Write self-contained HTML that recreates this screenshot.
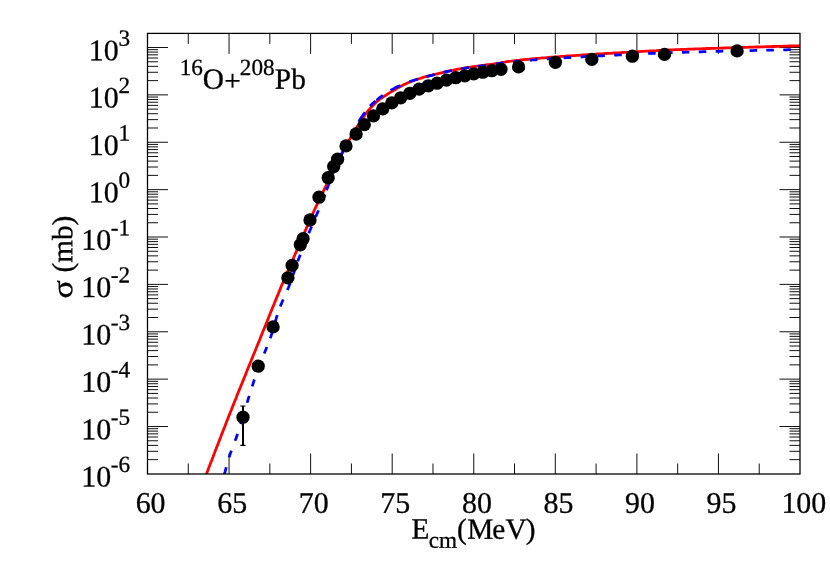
<!DOCTYPE html>
<html><head><meta charset="utf-8"><title>16O+208Pb</title>
<style>html,body{margin:0;padding:0;background:#fff}body{width:830px;height:581px;overflow:hidden;font-family:"Liberation Serif",serif}</style>
</head><body>
<svg width="830" height="581" viewBox="0 0 830 581" style="display:block;will-change:transform">
<rect x="0" y="0" width="830" height="581" fill="#fff"/>
<path d="M147.5,459.64 h10.5 M800.0,459.64 h-10.5 M147.5,451.30 h10.5 M800.0,451.30 h-10.5 M147.5,445.38 h10.5 M800.0,445.38 h-10.5 M147.5,440.78 h10.5 M800.0,440.78 h-10.5 M147.5,437.03 h10.5 M800.0,437.03 h-10.5 M147.5,433.86 h10.5 M800.0,433.86 h-10.5 M147.5,431.11 h10.5 M800.0,431.11 h-10.5 M147.5,428.69 h10.5 M800.0,428.69 h-10.5 M147.5,426.52 h20.5 M800.0,426.52 h-20.5 M147.5,412.26 h10.5 M800.0,412.26 h-10.5 M147.5,403.92 h10.5 M800.0,403.92 h-10.5 M147.5,398.00 h10.5 M800.0,398.00 h-10.5 M147.5,393.41 h10.5 M800.0,393.41 h-10.5 M147.5,389.66 h10.5 M800.0,389.66 h-10.5 M147.5,386.48 h10.5 M800.0,386.48 h-10.5 M147.5,383.74 h10.5 M800.0,383.74 h-10.5 M147.5,381.31 h10.5 M800.0,381.31 h-10.5 M147.5,379.14 h20.5 M800.0,379.14 h-20.5 M147.5,364.88 h10.5 M800.0,364.88 h-10.5 M147.5,356.54 h10.5 M800.0,356.54 h-10.5 M147.5,350.62 h10.5 M800.0,350.62 h-10.5 M147.5,346.03 h10.5 M800.0,346.03 h-10.5 M147.5,342.28 h10.5 M800.0,342.28 h-10.5 M147.5,339.11 h10.5 M800.0,339.11 h-10.5 M147.5,336.36 h10.5 M800.0,336.36 h-10.5 M147.5,333.93 h10.5 M800.0,333.93 h-10.5 M147.5,331.77 h20.5 M800.0,331.77 h-20.5 M147.5,317.50 h10.5 M800.0,317.50 h-10.5 M147.5,309.16 h10.5 M800.0,309.16 h-10.5 M147.5,303.24 h10.5 M800.0,303.24 h-10.5 M147.5,298.65 h10.5 M800.0,298.65 h-10.5 M147.5,294.90 h10.5 M800.0,294.90 h-10.5 M147.5,291.73 h10.5 M800.0,291.73 h-10.5 M147.5,288.98 h10.5 M800.0,288.98 h-10.5 M147.5,286.56 h10.5 M800.0,286.56 h-10.5 M147.5,284.39 h20.5 M800.0,284.39 h-20.5 M147.5,270.13 h10.5 M800.0,270.13 h-10.5 M147.5,261.78 h10.5 M800.0,261.78 h-10.5 M147.5,255.86 h10.5 M800.0,255.86 h-10.5 M147.5,251.27 h10.5 M800.0,251.27 h-10.5 M147.5,247.52 h10.5 M800.0,247.52 h-10.5 M147.5,244.35 h10.5 M800.0,244.35 h-10.5 M147.5,241.60 h10.5 M800.0,241.60 h-10.5 M147.5,239.18 h10.5 M800.0,239.18 h-10.5 M147.5,237.01 h20.5 M800.0,237.01 h-20.5 M147.5,222.75 h10.5 M800.0,222.75 h-10.5 M147.5,214.41 h10.5 M800.0,214.41 h-10.5 M147.5,208.49 h10.5 M800.0,208.49 h-10.5 M147.5,203.90 h10.5 M800.0,203.90 h-10.5 M147.5,200.14 h10.5 M800.0,200.14 h-10.5 M147.5,196.97 h10.5 M800.0,196.97 h-10.5 M147.5,194.22 h10.5 M800.0,194.22 h-10.5 M147.5,191.80 h10.5 M800.0,191.80 h-10.5 M147.5,189.63 h20.5 M800.0,189.63 h-20.5 M147.5,175.37 h10.5 M800.0,175.37 h-10.5 M147.5,167.03 h10.5 M800.0,167.03 h-10.5 M147.5,161.11 h10.5 M800.0,161.11 h-10.5 M147.5,156.52 h10.5 M800.0,156.52 h-10.5 M147.5,152.77 h10.5 M800.0,152.77 h-10.5 M147.5,149.59 h10.5 M800.0,149.59 h-10.5 M147.5,146.85 h10.5 M800.0,146.85 h-10.5 M147.5,144.42 h10.5 M800.0,144.42 h-10.5 M147.5,142.26 h20.5 M800.0,142.26 h-20.5 M147.5,127.99 h10.5 M800.0,127.99 h-10.5 M147.5,119.65 h10.5 M800.0,119.65 h-10.5 M147.5,113.73 h10.5 M800.0,113.73 h-10.5 M147.5,109.14 h10.5 M800.0,109.14 h-10.5 M147.5,105.39 h10.5 M800.0,105.39 h-10.5 M147.5,102.22 h10.5 M800.0,102.22 h-10.5 M147.5,99.47 h10.5 M800.0,99.47 h-10.5 M147.5,97.05 h10.5 M800.0,97.05 h-10.5 M147.5,94.88 h20.5 M800.0,94.88 h-20.5 M147.5,80.62 h10.5 M800.0,80.62 h-10.5 M147.5,72.27 h10.5 M800.0,72.27 h-10.5 M147.5,66.35 h10.5 M800.0,66.35 h-10.5 M147.5,61.76 h10.5 M800.0,61.76 h-10.5 M147.5,58.01 h10.5 M800.0,58.01 h-10.5 M147.5,54.84 h10.5 M800.0,54.84 h-10.5 M147.5,52.09 h10.5 M800.0,52.09 h-10.5 M147.5,49.67 h10.5 M800.0,49.67 h-10.5 M147.5,47.50 h20.5 M800.0,47.50 h-20.5 M188.28,474.0 v-10.5 M188.28,33.4 v10.5 M229.06,474.0 v-20.5 M229.06,33.4 v20.5 M269.84,474.0 v-10.5 M269.84,33.4 v10.5 M310.62,474.0 v-20.5 M310.62,33.4 v20.5 M351.41,474.0 v-10.5 M351.41,33.4 v10.5 M392.19,474.0 v-20.5 M392.19,33.4 v20.5 M432.97,474.0 v-10.5 M432.97,33.4 v10.5 M473.75,474.0 v-20.5 M473.75,33.4 v20.5 M514.53,474.0 v-10.5 M514.53,33.4 v10.5 M555.31,474.0 v-20.5 M555.31,33.4 v20.5 M596.09,474.0 v-10.5 M596.09,33.4 v10.5 M636.88,474.0 v-20.5 M636.88,33.4 v20.5 M677.66,474.0 v-10.5 M677.66,33.4 v10.5 M718.44,474.0 v-20.5 M718.44,33.4 v20.5 M759.22,474.0 v-10.5 M759.22,33.4 v10.5" stroke="#111" stroke-width="1.0" fill="none"/>
<clipPath id="c"><rect x="147.5" y="33.4" width="652.5" height="440.6"/></clipPath>
<g clip-path="url(#c)" fill="none">
<path d="M206.3,474.5 L207.0,472.5 L207.8,470.5 L208.5,468.6 L209.3,466.6 L210.0,464.6 L210.8,462.6 L211.6,460.7 L212.3,458.7 L213.1,456.7 L213.8,454.8 L214.6,452.8 L215.3,450.8 L216.1,448.8 L216.8,446.9 L217.6,444.9 L218.4,442.9 L219.1,441.0 L219.9,439.0 L220.7,437.0 L221.4,435.0 L222.2,433.1 L223.0,431.1 L223.7,429.1 L224.5,427.2 L225.3,425.2 L226.0,423.2 L226.8,421.3 L227.6,419.3 L228.3,417.3 L229.1,415.4 L229.9,413.4 L230.7,411.4 L231.5,409.5 L232.2,407.5 L233.0,405.6 L233.8,403.6 L234.6,401.6 L235.4,399.7 L236.2,397.7 L236.9,395.8 L237.7,393.8 L238.5,391.8 L239.3,389.9 L240.1,387.9 L240.9,386.0 L241.7,384.0 L242.5,382.0 L243.3,380.1 L244.1,378.1 L244.9,376.2 L245.7,374.2 L246.4,372.2 L247.2,370.3 L248.0,368.3 L248.8,366.4 L249.6,364.4 L250.4,362.5 L251.2,360.5 L252.0,358.5 L252.8,356.6 L253.6,354.6 L254.4,352.7 L255.2,350.7 L256.0,348.8 L256.8,346.8 L257.6,344.8 L258.4,342.9 L259.2,340.9 L260.0,339.0 L260.7,337.0 L261.5,335.1 L262.3,333.1 L263.1,331.1 L263.9,329.2 L264.7,327.2 L265.5,325.3 L266.3,323.3 L267.1,321.3 L267.8,319.4 L268.6,317.4 L269.4,315.5 L270.2,313.5 L271.0,311.5 L271.8,309.6 L272.6,307.6 L273.4,305.7 L274.2,303.7 L275.0,301.7 L275.8,299.8 L276.6,297.8 L277.4,295.9 L278.2,293.9 L279.0,292.0 L279.8,290.0 L280.6,288.1 L281.4,286.1 L282.2,284.2 L283.1,282.2 L283.9,280.3 L284.7,278.3 L285.5,276.4 L286.4,274.5 L287.2,272.5 L288.0,270.6 L288.9,268.6 L289.7,266.7 L290.6,264.8 L291.4,262.8 L292.3,260.9 L293.1,259.0 L293.9,257.0 L294.8,255.1 L295.6,253.1 L296.5,251.2 L297.3,249.3 L298.1,247.3 L299.0,245.4 L299.8,243.4 L300.6,241.5 L301.5,239.6 L302.3,237.6 L303.1,235.7 L304.0,233.7 L304.8,231.8 L305.7,229.9 L306.5,227.9 L307.4,226.0 L308.2,224.1 L309.1,222.1 L309.9,220.2 L310.8,218.3 L311.6,216.3 L312.5,214.4 L313.3,212.5 L314.2,210.5 L315.1,208.6 L316.0,206.7 L316.9,204.8 L317.8,202.9 L318.7,201.0 L319.6,199.1 L320.5,197.2 L321.4,195.3 L322.3,193.4 L323.3,191.5 L324.2,189.6 L325.1,187.7 L326.0,185.8 L327.0,183.9 L327.9,182.0 L328.8,180.1 L329.8,178.2 L330.7,176.3 L331.6,174.4 L332.6,172.5 L333.5,170.6 L334.5,168.7 L335.4,166.8 L336.3,164.9 L337.3,163.0 L338.2,161.1 L339.1,159.2 L340.0,157.3 L341.0,155.4 L341.9,153.5 L342.9,151.7 L343.9,149.8 L344.9,147.9 L345.9,146.1 L346.9,144.2 L347.9,142.4 L348.9,140.5 L350.0,138.7 L351.0,136.8 L352.0,135.0 L353.1,133.2 L354.2,131.3 L355.2,129.5 L356.4,127.7 L357.5,126.0 L358.7,124.3 L360.0,122.6 L361.2,120.8 L362.4,119.1 L363.5,117.3 L364.6,115.5 L365.8,113.8 L367.1,112.1 L368.4,110.4 L369.8,108.8 L371.2,107.2 L372.6,105.7 L374.1,104.2 L375.7,102.7 L377.2,101.3 L378.9,100.0 L380.6,98.7 L382.3,97.5 L384.1,96.3 L385.9,95.2 L387.6,94.1 L389.4,92.9 L391.2,91.9 L393.1,90.8 L394.9,89.7 L396.7,88.6 L398.5,87.6 L400.4,86.5 L402.2,85.6 L404.1,84.6 L406.0,83.7 L407.9,82.8 L409.9,82.0 L411.8,81.2 L413.8,80.5 L415.8,79.8 L417.8,79.1 L419.8,78.5 L421.9,77.8 L423.9,77.2 L425.9,76.6 L428.0,76.1 L430.0,75.6 L432.1,75.2 L434.1,74.7 L436.2,74.2 L438.2,73.7 L440.3,73.2 L442.3,72.7 L444.4,72.1 L446.4,71.6 L448.5,71.1 L450.6,70.7 L452.6,70.3 L454.7,69.8 L456.8,69.4 L458.8,69.0 L460.9,68.7 L463.0,68.3 L465.1,67.9 L467.2,67.6 L469.3,67.3 L471.4,67.0 L473.4,66.7 L475.5,66.4 L477.6,66.1 L479.7,65.8 L481.8,65.5 L483.9,65.3 L486.0,65.0 L488.1,64.7 L490.2,64.5 L492.3,64.2 L494.4,63.8 L496.5,63.5 L498.5,63.1 L500.6,62.8 L502.7,62.4 L504.8,62.1 L506.9,61.7 L509.0,61.4 L511.1,61.2 L513.2,60.9 L515.3,60.6 L517.4,60.4 L519.5,60.2 L521.6,59.9 L523.7,59.7 L525.8,59.5 L527.9,59.3 L530.0,59.1 L532.1,58.9 L534.2,58.7 L536.3,58.5 L538.4,58.3 L540.5,58.1 L542.6,57.9 L544.7,57.8 L546.8,57.6 L548.9,57.4 L551.0,57.2 L553.1,57.1 L555.2,56.9 L557.3,56.8 L559.4,56.6 L561.5,56.4 L563.7,56.3 L565.8,56.1 L567.9,56.0 L570.0,55.9 L572.1,55.7 L574.2,55.6 L576.3,55.4 L578.4,55.3 L580.5,55.1 L582.6,55.0 L584.7,54.9 L586.8,54.7 L588.9,54.6 L591.1,54.4 L593.2,54.3 L595.3,54.2 L597.4,54.0 L599.5,53.9 L601.6,53.8 L603.7,53.6 L605.8,53.5 L607.9,53.4 L610.0,53.3 L612.1,53.1 L614.2,53.0 L616.4,52.9 L618.5,52.8 L620.6,52.6 L622.7,52.5 L624.8,52.4 L626.9,52.3 L629.0,52.2 L631.1,52.0 L633.2,51.9 L635.3,51.8 L637.4,51.7 L639.6,51.6 L641.7,51.4 L643.8,51.3 L645.9,51.2 L648.0,51.1 L650.1,51.0 L652.2,50.9 L654.3,50.8 L656.4,50.7 L658.5,50.5 L660.7,50.4 L662.8,50.3 L664.9,50.2 L667.0,50.1 L669.1,50.0 L671.2,49.9 L673.3,49.8 L675.4,49.7 L677.5,49.7 L679.6,49.6 L681.8,49.5 L683.9,49.4 L686.0,49.3 L688.1,49.2 L690.2,49.1 L692.3,49.1 L694.4,49.0 L696.5,48.9 L698.6,48.8 L700.8,48.8 L702.9,48.7 L705.0,48.6 L707.1,48.5 L709.2,48.5 L711.3,48.4 L713.4,48.3 L715.5,48.3 L717.6,48.2 L719.8,48.1 L721.9,48.1 L724.0,48.0 L726.1,47.9 L728.2,47.9 L730.3,47.8 L732.4,47.7 L734.5,47.7 L736.7,47.6 L738.8,47.5 L740.9,47.5 L743.0,47.4 L745.1,47.3 L747.2,47.3 L749.3,47.2 L751.4,47.1 L753.5,47.1 L755.7,47.0 L757.8,47.0 L759.9,46.9 L762.0,46.8 L764.1,46.8 L766.2,46.7 L768.3,46.6 L770.4,46.6 L772.5,46.5 L774.7,46.5 L776.8,46.4 L778.9,46.3 L781.0,46.3 L783.1,46.2 L785.2,46.2 L787.3,46.1 L789.4,46.0 L791.6,46.0 L793.7,45.9 L795.8,45.9 L797.9,45.8 L800.0,45.8" stroke="#ff0000" stroke-width="2.8" stroke-linejoin="round"/>
<path d="M224.3,474.5 L224.7,472.9 L225.2,471.3 L225.6,469.7 L226.1,468.0 L226.5,466.4 L227.0,464.8 L227.4,463.2 L227.8,461.6 L228.3,460.0 L228.8,458.4 L229.3,456.8 L229.8,455.2 L230.3,453.6 L230.9,452.0 L231.4,450.4 L232.0,448.9 L232.6,447.3 L233.2,445.7 L233.8,444.2 L234.4,442.6 L235.0,441.0 L235.6,439.5 L236.2,437.9 L236.8,436.3 L237.3,434.7 L237.8,433.2 L238.4,431.6 L238.9,430.0 L239.4,428.4 L239.9,426.8 L240.4,425.2 L240.9,423.6 L241.4,422.0 L241.9,420.4 L242.4,418.8 L242.8,417.2 L243.3,415.6 L243.8,414.0 L244.3,412.3 L244.7,410.7 L245.2,409.1 L245.7,407.5 L246.2,405.9 L246.7,404.3 L247.1,402.7 L247.6,401.1 L248.1,399.5 L248.6,397.9 L249.1,396.3 L249.6,394.7 L250.1,393.1 L250.6,391.5 L251.1,389.9 L251.6,388.3 L252.1,386.7 L252.6,385.1 L253.1,383.5 L253.6,381.9 L254.1,380.3 L254.7,378.8 L255.2,377.2 L255.8,375.6 L256.4,374.0 L257.0,372.5 L257.5,370.9 L258.1,369.3 L258.7,367.8 L259.3,366.2 L260.0,364.6 L260.6,363.1 L261.2,361.5 L261.8,360.0 L262.4,358.4 L263.0,356.8 L263.6,355.3 L264.2,353.7 L264.8,352.2 L265.4,350.6 L266.1,349.0 L266.7,347.5 L267.3,345.9 L267.9,344.4 L268.5,342.8 L269.1,341.2 L269.7,339.7 L270.3,338.1 L270.9,336.5 L271.4,334.9 L271.9,333.4 L272.4,331.8 L272.9,330.2 L273.4,328.6 L273.9,326.9 L274.3,325.3 L274.8,323.7 L275.2,322.1 L275.7,320.5 L276.1,318.9 L276.6,317.2 L277.1,315.6 L277.6,314.0 L278.1,312.5 L278.6,310.9 L279.2,309.3 L279.8,307.7 L280.4,306.2 L281.0,304.6 L281.7,303.1 L282.3,301.6 L283.0,300.0 L283.7,298.5 L284.4,297.0 L285.1,295.4 L285.7,293.9 L286.4,292.4 L287.1,290.8 L287.7,289.3 L288.4,287.7 L289.0,286.2 L289.6,284.6 L290.2,283.1 L290.8,281.5 L291.4,279.9 L291.9,278.3 L292.5,276.8 L293.0,275.2 L293.5,273.6 L294.1,272.0 L294.6,270.4 L295.2,268.8 L295.7,267.2 L296.2,265.6 L296.8,264.1 L297.4,262.5 L297.9,260.9 L298.5,259.3 L299.1,257.8 L299.7,256.2 L300.3,254.6 L300.9,253.1 L301.5,251.5 L302.1,250.0 L302.7,248.4 L303.3,246.8 L303.9,245.3 L304.5,243.7 L305.2,242.2 L305.8,240.6 L306.4,239.1 L307.0,237.5 L307.7,236.0 L308.3,234.4 L308.9,232.9 L309.6,231.3 L310.2,229.8 L310.9,228.2 L311.5,226.7 L312.2,225.1 L312.8,223.6 L313.5,222.1 L314.2,220.5 L314.8,219.0 L315.5,217.4 L316.1,215.9 L316.8,214.4 L317.4,212.8 L318.1,211.3 L318.7,209.7 L319.3,208.2 L320.0,206.6 L320.6,205.1 L321.2,203.5 L321.8,201.9 L322.4,200.4 L323.1,198.8 L323.7,197.3 L324.3,195.7 L324.9,194.1 L325.5,192.6 L326.1,191.0 L326.7,189.5 L327.4,187.9 L328.0,186.4 L328.6,184.8 L329.2,183.2 L329.8,181.7 L330.4,180.1 L331.0,178.5 L331.6,177.0 L332.2,175.4 L332.8,173.9 L333.5,172.3 L334.1,170.8 L334.7,169.2 L335.4,167.7 L336.0,166.1 L336.7,164.6 L337.4,163.1 L338.1,161.5 L338.8,160.0 L339.5,158.5 L340.2,157.0 L340.9,155.5 L341.6,154.0 L342.4,152.5 L343.1,150.9 L343.8,149.4 L344.5,147.9 L345.3,146.4 L346.0,144.9 L346.7,143.4 L347.5,141.9 L348.2,140.4 L349.0,138.9 L349.8,137.4 L350.6,136.0 L351.4,134.5 L352.2,133.0 L353.0,131.5 L353.8,130.1 L354.6,128.6 L355.4,127.2 L356.3,125.7 L357.1,124.3 L358.0,122.8 L358.9,121.4 L359.7,120.0 L360.6,118.6 L361.5,117.2 L362.5,115.8 L363.4,114.4 L364.4,113.0 L365.3,111.6 L366.4,110.3 L367.4,109.0 L368.5,107.7 L369.6,106.5 L370.8,105.3 L372.0,104.1 L373.2,103.0 L374.5,101.9 L375.8,100.8 L377.1,99.8 L378.4,98.7 L379.7,97.7 L381.1,96.7 L382.4,95.7 L383.8,94.7 L385.2,93.8 L386.6,92.8 L388.0,91.9 L389.4,91.1 L390.8,90.2 L392.3,89.4 L393.8,88.6 L395.2,87.8 L396.7,87.0 L398.3,86.3 L399.8,85.7 L401.3,85.0 L402.9,84.4 L404.4,83.7 L406.0,83.1 L407.6,82.5 L409.1,81.9 L410.7,81.4 L412.3,80.8 L413.9,80.3 L415.5,79.8 L417.1,79.3 L418.7,78.8 L420.3,78.4 L421.9,77.9 L423.5,77.4 L425.1,77.0 L426.7,76.6 L428.4,76.1 L430.0,75.7 L431.6,75.3 L433.2,74.9 L434.8,74.5 L436.5,74.0 L438.1,73.6 L439.7,73.2 L441.4,72.8 L443.0,72.5 L444.6,72.1 L446.2,71.7 L447.9,71.4 L449.5,71.0 L451.2,70.7 L452.8,70.3 L454.4,70.0 L456.1,69.7 L457.7,69.4 L459.4,69.1 L461.0,68.8 L462.7,68.5 L464.3,68.3 L466.0,68.0 L467.7,67.7 L469.3,67.5 L471.0,67.3 L472.6,67.0 L474.3,66.8 L475.9,66.6 L477.6,66.4 L479.3,66.2 L480.9,66.0 L482.6,65.7 L484.3,65.5 L485.9,65.3 L487.6,65.2 L489.2,65.0 L490.9,64.7 L492.6,64.5 L494.2,64.3 L495.9,64.0 L497.5,63.8 L499.2,63.5 L500.8,63.2 L502.5,62.9 L504.2,62.7 L505.8,62.4 L507.5,62.2 L509.1,62.0 L510.8,61.8 L512.5,61.7 L514.1,61.5 L515.8,61.4 L517.5,61.2 L519.1,61.1 L520.8,60.9 L522.5,60.8 L524.1,60.7 L525.8,60.5 L527.5,60.4 L529.1,60.3 L530.8,60.2 L532.5,60.0 L534.2,59.9 L535.8,59.8 L537.5,59.7 L539.2,59.5 L540.8,59.4 L542.5,59.3 L544.2,59.2 L545.9,59.1 L547.5,58.9 L549.2,58.8 L550.9,58.7 L552.5,58.6 L554.2,58.5 L555.9,58.4 L557.5,58.3 L559.2,58.2 L560.9,58.1 L562.6,57.9 L564.2,57.8 L565.9,57.7 L567.6,57.6 L569.2,57.5 L570.9,57.5 L572.6,57.4 L574.3,57.3 L575.9,57.2 L577.6,57.1 L579.3,57.0 L581.0,56.9 L582.6,56.8 L584.3,56.7 L586.0,56.6 L587.6,56.5 L589.3,56.5 L591.0,56.4 L592.7,56.3 L594.3,56.2 L596.0,56.1 L597.7,56.0 L599.4,55.9 L601.0,55.8 L602.7,55.8 L604.4,55.7 L606.0,55.6 L607.7,55.5 L609.4,55.4 L611.1,55.3 L612.7,55.2 L614.4,55.1 L616.1,55.0 L617.7,55.0 L619.4,54.9 L621.1,54.8 L622.8,54.7 L624.4,54.6 L626.1,54.5 L627.8,54.4 L629.5,54.4 L631.1,54.3 L632.8,54.2 L634.5,54.1 L636.1,54.0 L637.8,53.9 L639.5,53.9 L641.2,53.8 L642.8,53.7 L644.5,53.6 L646.2,53.6 L647.9,53.5 L649.5,53.4 L651.2,53.4 L652.9,53.3 L654.6,53.3 L656.2,53.2 L657.9,53.1 L659.6,53.1 L661.2,53.0 L662.9,53.0 L664.6,52.9 L666.3,52.8 L667.9,52.8 L669.6,52.7 L671.3,52.7 L673.0,52.6 L674.6,52.6 L676.3,52.5 L678.0,52.5 L679.7,52.4 L681.3,52.4 L683.0,52.3 L684.7,52.3 L686.4,52.2 L688.0,52.2 L689.7,52.1 L691.4,52.1 L693.1,52.0 L694.7,52.0 L696.4,51.9 L698.1,51.9 L699.8,51.8 L701.4,51.8 L703.1,51.7 L704.8,51.7 L706.4,51.6 L708.1,51.6 L709.8,51.6 L711.5,51.5 L713.1,51.5 L714.8,51.4 L716.5,51.4 L718.2,51.3 L719.8,51.3 L721.5,51.2 L723.2,51.2 L724.9,51.2 L726.5,51.1 L728.2,51.1 L729.9,51.0 L731.6,51.0 L733.2,50.9 L734.9,50.9 L736.6,50.9 L738.3,50.8 L739.9,50.8 L741.6,50.7 L743.3,50.7 L745.0,50.7 L746.6,50.6 L748.3,50.6 L750.0,50.5 L751.7,50.5 L753.3,50.5 L755.0,50.4 L756.7,50.4 L758.3,50.4 L760.0,50.3 L761.7,50.3 L763.4,50.2 L765.0,50.2 L766.7,50.2 L768.4,50.1 L770.1,50.1 L771.7,50.1 L773.4,50.0 L775.1,50.0 L776.8,50.0 L778.4,49.9 L780.1,49.9 L781.8,49.9 L783.5,49.8 L785.1,49.8 L786.8,49.8 L788.5,49.7 L790.2,49.7 L791.8,49.7 L793.5,49.6 L795.2,49.6 L796.9,49.6 L798.5,49.5 L800.0,49.5" stroke="#0000ff" stroke-width="2.75" stroke-dasharray="7.54 10.26 7.11 10.48 7.33 10.25 7.12 15.29 7.12 10.05 7.11 10.46 7.12 10.26 7.12 9.21 7.11 10.06 7.12 9.18 7.54 10.28 7.32 8.79 7.33 7.12 7.12 8.79 7.33 6.91 7.33 10.26 7.33 9.84 7.33 4.40 7.33 10.68 7.53 11.51 7.54 16.12 7.76 7.55 11.10 8.16 7.53 1.26 7.96 9.22 10.88 9.64 9.00 9.22 8.37 9.22 8.37 9.42 7.95 9.21 7.96 10.26 7.54 9.41 7.54 9.43 7.54 9.42 7.54 9.42 7.54 9.42 7.54 9.42 7.33 9.42 7.54 9.42 7.54 9.42 7.54 9.42 7.54 9.42 7.33 9.42 7.54 9.42 7.54 9.42 7.54 9.42 7.54 9.21 7.54 9.42 7.54 50.00" stroke-linejoin="round"/>
</g>
<path d="M243,406 V445.4" stroke="#000" stroke-width="2" fill="none"/>
<path d="M240.3,406 H245.5 M240.3,445.4 H245.5" stroke="#000" stroke-width="1.2" fill="none"/>
<g fill="#000">
<circle cx="243.0" cy="417.2" r="6.65"/>
<circle cx="258.2" cy="366.2" r="6.65"/>
<circle cx="273.1" cy="326.9" r="6.65"/>
<circle cx="287.9" cy="277.8" r="6.65"/>
<circle cx="292.1" cy="265.4" r="6.65"/>
<circle cx="300.3" cy="244.8" r="6.65"/>
<circle cx="303.1" cy="238.7" r="6.65"/>
<circle cx="310.0" cy="220.0" r="6.65"/>
<circle cx="319.0" cy="197.2" r="6.65"/>
<circle cx="328.2" cy="177.7" r="6.65"/>
<circle cx="333.7" cy="166.5" r="6.65"/>
<circle cx="337.6" cy="159.2" r="6.65"/>
<circle cx="346.0" cy="145.9" r="6.65"/>
<circle cx="356.1" cy="134.0" r="6.65"/>
<circle cx="364.3" cy="124.6" r="6.65"/>
<circle cx="373.5" cy="115.9" r="6.65"/>
<circle cx="382.7" cy="108.9" r="6.65"/>
<circle cx="391.8" cy="102.9" r="6.65"/>
<circle cx="400.7" cy="97.8" r="6.65"/>
<circle cx="409.9" cy="93.3" r="6.65"/>
<circle cx="419.1" cy="89.1" r="6.65"/>
<circle cx="428.3" cy="85.8" r="6.65"/>
<circle cx="437.1" cy="83.2" r="6.65"/>
<circle cx="446.5" cy="80.1" r="6.65"/>
<circle cx="455.7" cy="77.7" r="6.65"/>
<circle cx="464.8" cy="75.8" r="6.65"/>
<circle cx="473.7" cy="73.9" r="6.65"/>
<circle cx="482.9" cy="72.2" r="6.65"/>
<circle cx="491.8" cy="70.7" r="6.65"/>
<circle cx="501.0" cy="69.3" r="6.65"/>
<circle cx="518.6" cy="66.9" r="6.65"/>
<circle cx="555.4" cy="62.3" r="6.65"/>
<circle cx="591.8" cy="59.4" r="6.65"/>
<circle cx="632.4" cy="56.2" r="6.65"/>
<circle cx="664.5" cy="54.4" r="6.65"/>
<circle cx="737.1" cy="50.9" r="6.65"/>
</g>
<rect x="147.5" y="33.4" width="652.5" height="440.6" fill="none" stroke="#000" stroke-width="1.28"/>
<g font-family="Liberation Serif, serif" fill="#000" stroke="#000" stroke-width="0.3">
<text transform="translate(150.6,512.7) rotate(0.03) scale(1,1.0)" font-size="29.9" text-anchor="middle">60</text>
<text transform="translate(232.2,512.7) rotate(0.03) scale(1,1.0)" font-size="29.9" text-anchor="middle">65</text>
<text transform="translate(313.7,512.7) rotate(0.03) scale(1,1.0)" font-size="29.9" text-anchor="middle">70</text>
<text transform="translate(395.3,512.7) rotate(0.03) scale(1,1.0)" font-size="29.9" text-anchor="middle">75</text>
<text transform="translate(476.9,512.7) rotate(0.03) scale(1,1.0)" font-size="29.9" text-anchor="middle">80</text>
<text transform="translate(558.4,512.7) rotate(0.03) scale(1,1.0)" font-size="29.9" text-anchor="middle">85</text>
<text transform="translate(640.0,512.7) rotate(0.03) scale(1,1.0)" font-size="29.9" text-anchor="middle">90</text>
<text transform="translate(721.5,512.7) rotate(0.03) scale(1,1.0)" font-size="29.9" text-anchor="middle">95</text>
<text transform="translate(803.8,512.7) rotate(0.03) scale(1,1.0)" font-size="29.9" text-anchor="middle">100</text>
<text transform="translate(111.2,486.6) rotate(0.03) scale(1,1.0)" font-size="29.9" text-anchor="end">10</text>
<text transform="translate(130.0,472.1) rotate(0.03) scale(1,1.0)" font-size="23.2" text-anchor="end">-6</text>
<text transform="translate(111.2,439.2) rotate(0.03) scale(1,1.0)" font-size="29.9" text-anchor="end">10</text>
<text transform="translate(130.0,424.7) rotate(0.03) scale(1,1.0)" font-size="23.2" text-anchor="end">-5</text>
<text transform="translate(111.2,391.8) rotate(0.03) scale(1,1.0)" font-size="29.9" text-anchor="end">10</text>
<text transform="translate(130.0,377.3) rotate(0.03) scale(1,1.0)" font-size="23.2" text-anchor="end">-4</text>
<text transform="translate(111.2,344.5) rotate(0.03) scale(1,1.0)" font-size="29.9" text-anchor="end">10</text>
<text transform="translate(130.0,330.0) rotate(0.03) scale(1,1.0)" font-size="23.2" text-anchor="end">-3</text>
<text transform="translate(111.2,297.1) rotate(0.03) scale(1,1.0)" font-size="29.9" text-anchor="end">10</text>
<text transform="translate(130.0,282.6) rotate(0.03) scale(1,1.0)" font-size="23.2" text-anchor="end">-2</text>
<text transform="translate(111.2,249.7) rotate(0.03) scale(1,1.0)" font-size="29.9" text-anchor="end">10</text>
<text transform="translate(130.0,235.2) rotate(0.03) scale(1,1.0)" font-size="23.2" text-anchor="end">-1</text>
<text transform="translate(118.7,202.3) rotate(0.03) scale(1,1.0)" font-size="29.9" text-anchor="end">10</text>
<text transform="translate(130.0,187.8) rotate(0.03) scale(1,1.0)" font-size="23.2" text-anchor="end">0</text>
<text transform="translate(118.7,155.0) rotate(0.03) scale(1,1.0)" font-size="29.9" text-anchor="end">10</text>
<text transform="translate(130.0,140.5) rotate(0.03) scale(1,1.0)" font-size="23.2" text-anchor="end">1</text>
<text transform="translate(118.7,107.6) rotate(0.03) scale(1,1.0)" font-size="29.9" text-anchor="end">10</text>
<text transform="translate(130.0,93.1) rotate(0.03) scale(1,1.0)" font-size="23.2" text-anchor="end">2</text>
<text transform="translate(118.7,60.2) rotate(0.03) scale(1,1.0)" font-size="29.9" text-anchor="end">10</text>
<text transform="translate(130.0,45.7) rotate(0.03) scale(1,1.0)" font-size="23.2" text-anchor="end">3</text>
<text transform="rotate(0.03)" y="88.6" font-size="29.3"><tspan x="179.7" font-size="23.2" dy="-13.8">16</tspan><tspan x="202.8" dy="13.8">O</tspan><tspan x="224.3" dy="1.9">+</tspan><tspan x="239.9" font-size="23.2" dy="-15.7">208</tspan><tspan x="274.9" dy="13.8">Pb</tspan></text>
<text transform="rotate(0.03)" y="538.4" font-size="29.3"><tspan x="411.75">E</tspan><tspan x="429.0" font-size="23.2" dy="9.1">cm</tspan><tspan x="457.3" dy="-9.1">(</tspan><tspan x="467.65">M</tspan><tspan x="492.5">e</tspan><tspan x="505.8">V</tspan><tspan x="526.05">)</tspan></text>
<text transform="translate(72.2,298.5) rotate(-89.97) scale(1.155,1)" font-size="29.3">σ</text>
<text transform="translate(72.2,272.6) rotate(-89.97)" font-size="29.3">(mb)</text>
</g>
</svg>
</body></html>
